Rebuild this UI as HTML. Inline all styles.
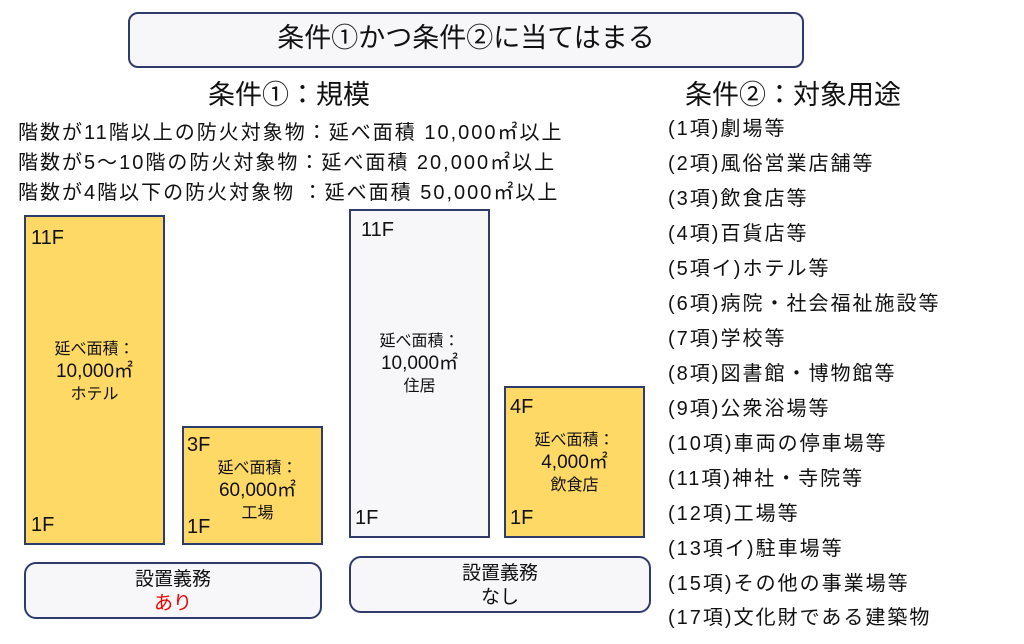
<!DOCTYPE html>
<html><head><meta charset="utf-8"><style>
body{margin:0;width:1024px;height:644px;background:#fff;position:relative;overflow:hidden;font-family:"Liberation Sans","Noto Sans CJK JP",sans-serif;color:#111}
.a{position:absolute;white-space:nowrap}
.box{position:absolute;border:2px solid #2f3b6b;box-sizing:border-box}
.y{background:#ffd966}.w{background:#f7f7fa}
.pill{position:absolute;border:2px solid #2f3b6b;border-radius:12px;background:#f7f7fa;box-sizing:border-box;text-align:center;font-size:19px;line-height:24px;padding-top:4px}
.f{position:absolute;font-size:20px}
.c{position:absolute;left:0;right:0;text-align:center;font-size:16px;line-height:22px}
.c .n{font-size:19px}
.li{position:absolute;left:668px;font-size:20px;line-height:24px;white-space:nowrap;letter-spacing:2px}
.r{position:absolute;left:18px;font-size:20px;line-height:26px;white-space:nowrap;letter-spacing:2px}
</style></head><body>
<div class="pill" style="left:128px;top:12px;width:676px;height:56px;font-size:27px;line-height:44px;padding-top:2px;border-radius:10px">条件①かつ条件②に当てはまる</div>
<div class="a" style="left:208px;top:78px;font-size:27px;line-height:34px">条件①：規模</div>
<div class="a" style="left:685px;top:78px;font-size:27px;line-height:34px">条件②：対象用途</div>
<div class="r" style="top:120px">階数が11階以上の防火対象物：延べ面積 10,000㎡以上</div>
<div class="r" style="top:150px">階数が5～10階の防火対象物：延べ面積 20,000㎡以上</div>
<div class="r" style="top:180px">階数が4階以下の防火対象物 ：延べ面積 50,000㎡以上</div>

<div class="box y" style="left:24px;top:215px;width:141px;height:330px">
<div class="f" style="left:5px;top:10px">11F</div><div class="f" style="left:5px;bottom:6px">1F</div>
<div class="c" style="top:122px">延べ面積：<br><span class="n">10,000㎡</span><br>ホテル</div></div>
<div class="box y" style="left:182px;top:426px;width:141px;height:119px">
<div class="f" style="left:3px;top:6px">3F</div><div class="f" style="left:3px;bottom:4px">1F</div>
<div class="c" style="top:30px;left:10px">延べ面積：<br><span class="n">60,000㎡</span><br>工場</div></div>
<div class="box w" style="left:349px;top:209px;width:141px;height:329px">
<div class="f" style="left:10px;top:8px">11F</div><div class="f" style="left:4px;bottom:6px">1F</div>
<div class="c" style="top:120px">延べ面積：<br><span class="n">10,000㎡</span><br>住居</div></div>
<div class="box y" style="left:504px;top:386px;width:141px;height:152px">
<div class="f" style="left:4px;top:8px">4F</div><div class="f" style="left:4px;bottom:6px">1F</div>
<div class="c" style="top:42px">延べ面積：<br><span class="n">4,000㎡</span><br>飲食店</div></div>

<div class="pill" style="left:24px;top:562px;width:298px;height:57px">設置義務<br><span style="color:#e00">あり</span></div>
<div class="pill" style="left:349px;top:556px;width:302px;height:57px">設置義務<br>なし</div>

<div class="li" style="top:117px">(1項)劇場等</div>
<div class="li" style="top:152px">(2項)風俗営業店舗等</div>
<div class="li" style="top:187px">(3項)飲食店等</div>
<div class="li" style="top:222px">(4項)百貨店等</div>
<div class="li" style="top:257px">(5項イ)ホテル等</div>
<div class="li" style="top:292px">(6項)病院・社会福祉施設等</div>
<div class="li" style="top:327px">(7項)学校等</div>
<div class="li" style="top:362px">(8項)図書館・博物館等</div>
<div class="li" style="top:397px">(9項)公衆浴場等</div>
<div class="li" style="top:432px">(10項)車両の停車場等</div>
<div class="li" style="top:467px">(11項)神社・寺院等</div>
<div class="li" style="top:502px">(12項)工場等</div>
<div class="li" style="top:537px">(13項イ)駐車場等</div>
<div class="li" style="top:572px">(15項)その他の事業場等</div>
<div class="li" style="top:606px">(17項)文化財である建築物</div>
</body></html>
